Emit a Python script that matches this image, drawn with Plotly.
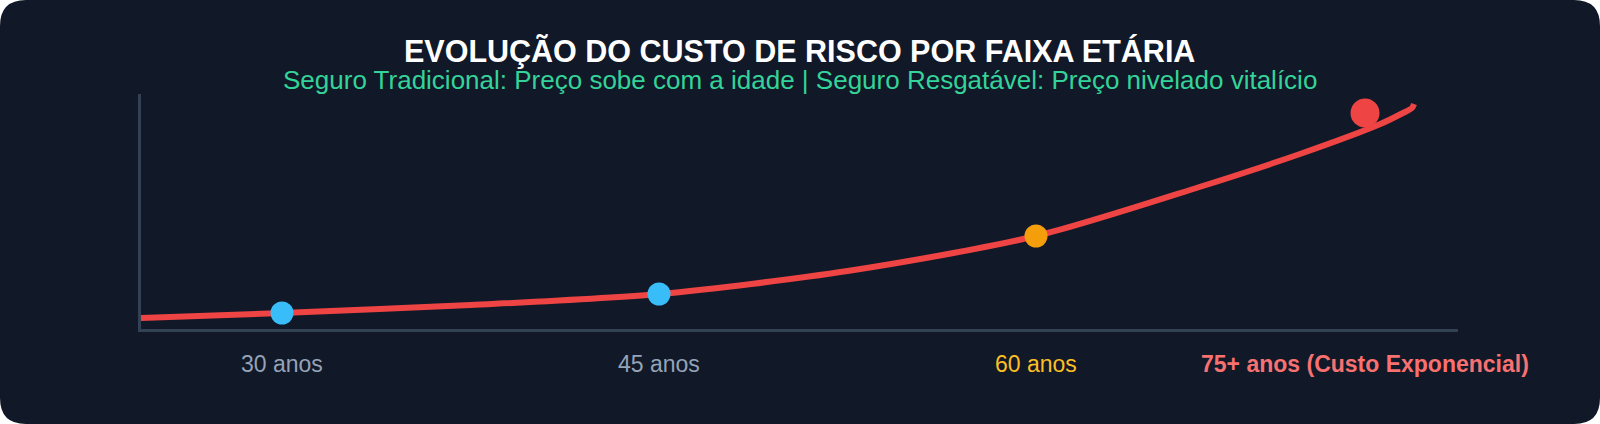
import plotly.graph_objects as go

# curva de custo de risco (idade, custo relativo)
curve_age = [24.39, 30, 37.5, 45, 52.5, 60, 66.5, 70.5, 73.7, 74.6, 74.96, 75.04]
curve_cost = [11, 16, 24, 35, 58, 93, 142, 175, 205, 216, 221, 225]

# marcos por faixa etaria
point_age = [30, 45, 60, 73.09]
point_cost = [16, 35, 93, 216]
point_colors = ['#38bdf8', '#38bdf8', '#f59e0b', '#ef4444']
point_sizes = [23, 23, 23, 29]
point_labels = ['30 anos', '45 anos', '60 anos', '<b>75+ anos (Custo Exponencial)</b>']
label_colors = ['#94a3b8', '#94a3b8', '#fbbf24', '#f87171']

title = 'EVOLUÇÃO DO CUSTO DE RISCO POR FAIXA ETÁRIA'
subtitle = 'Seguro Tradicional: Preço sobe com a idade | Seguro Resgatável: Preço nivelado vitalício'

bg_color = '#111827'
axis_color = '#334155'
font_family = 'Liberation Sans, Arial, sans-serif'

fig = go.Figure()
fig.add_trace(go.Scatter(x=curve_age, y=curve_cost, mode='lines',
                         line=dict(color='#ef4444', width=6, shape='spline', smoothing=0.8),
                         hoverinfo='skip'))
fig.add_trace(go.Scatter(x=point_age, y=point_cost, mode='markers',
                         marker=dict(color=point_colors, size=point_sizes, opacity=1, line=dict(width=0)),
                         hoverinfo='skip'))

for age, text, color in zip(point_age, point_labels, label_colors):
    fig.add_annotation(x=age, y=-0.149, xref='x', yref='paper', text=text, showarrow=False,
                       xanchor='center', yanchor='middle',
                       font=dict(size=23, color=color, family=font_family))

fig.add_annotation(x=0.5, y=(329 - 51) / 235, xref='paper', yref='paper',
                   text='<b>' + title + '</b>',
                   showarrow=False, xanchor='center', yanchor='middle',
                   font=dict(size=30.5, color='#ffffff', family=font_family))
fig.add_annotation(x=0.5, y=(329 - 80) / 235, xref='paper', yref='paper', text=subtitle,
                   showarrow=False, xanchor='center', yanchor='middle',
                   font=dict(size=26, color='#34d399', family=font_family))

# rounded dark card behind everything (pixel offsets from plot origin)
card = 'M -141,-95 L 1433,-95 Q 1459,-95 1459,-69 L 1459,303 Q 1459,329 1433,329 L -115,329 Q -141,329 -141,303 L -141,-69 Q -141,-95 -115,-95 Z'
fig.add_shape(type='path', path=card, xref='paper', yref='paper', xsizemode='pixel', ysizemode='pixel',
              xanchor=0, yanchor=0, fillcolor=bg_color, line=dict(width=0), layer='below')

fig.update_layout(
    width=1600, height=424,
    margin=dict(l=141, r=142, t=94, b=95),
    paper_bgcolor='#ffffff',
    plot_bgcolor='rgba(0,0,0,0)',
    showlegend=False,
    font=dict(family=font_family),
    xaxis=dict(range=[24.39, 76.79], showgrid=False, zeroline=False, showticklabels=False,
               showline=True, linecolor=axis_color, linewidth=3, fixedrange=True),
    yaxis=dict(range=[0, 235], showgrid=False, zeroline=False, showticklabels=False,
               showline=True, linecolor=axis_color, linewidth=3, fixedrange=True),
)

fig.write_html('out.html', config={'displayModeBar': False},
               post_script="document.body.style.margin='0px';")
